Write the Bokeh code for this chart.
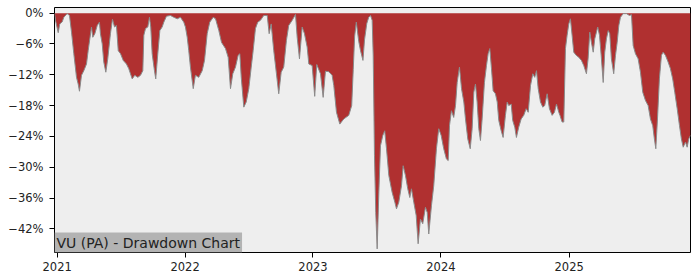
from datetime import datetime, timedelta
from bokeh.plotting import figure
from bokeh.models import (ColumnDataSource, FixedTicker, DatetimeTickFormatter,
                          CustomJSTickFormatter, Range1d, Label)
from bokeh.embed import file_html
from bokeh.resources import INLINE

# Decimal-year positions and drawdown (%)
years = [2020.979, 2020.987, 2021.008, 2021.020, 2021.039, 2021.052, 2021.078, 2021.096, 2021.112, 2021.130,
         2021.151, 2021.164, 2021.174, 2021.190, 2021.208, 2021.229, 2021.242, 2021.255, 2021.268, 2021.278,
         2021.294, 2021.313, 2021.330, 2021.338, 2021.352, 2021.364, 2021.380, 2021.395, 2021.416, 2021.432,
         2021.448, 2021.463, 2021.477, 2021.495, 2021.516, 2021.541, 2021.559, 2021.586, 2021.606, 2021.630,
         2021.651, 2021.669, 2021.677, 2021.690, 2021.708, 2021.721, 2021.731, 2021.742, 2021.760, 2021.770,
         2021.786, 2021.802, 2021.820, 2021.833, 2021.854, 2021.885, 2021.911, 2021.938, 2021.963, 2021.989,
         2022.002, 2022.016, 2022.028, 2022.041, 2022.063, 2022.080, 2022.106, 2022.133, 2022.151, 2022.172,
         2022.192, 2022.219, 2022.237, 2022.263, 2022.284, 2022.315, 2022.336, 2022.354, 2022.372, 2022.393,
         2022.414, 2022.427, 2022.438, 2022.458, 2022.477, 2022.497, 2022.516, 2022.531, 2022.549, 2022.567,
         2022.588, 2022.614, 2022.641, 2022.656, 2022.672, 2022.692, 2022.713, 2022.731, 2022.750, 2022.770,
         2022.791, 2022.809, 2022.836, 2022.862, 2022.875, 2022.893, 2022.914, 2022.932, 2022.953, 2022.966,
         2022.992, 2023.012, 2023.028, 2023.057, 2023.078, 2023.096, 2023.122, 2023.148, 2023.161, 2023.182,
         2023.208, 2023.239, 2023.278, 2023.301, 2023.313, 2023.324, 2023.337, 2023.356, 2023.370, 2023.389,
         2023.401, 2023.419, 2023.434, 2023.448, 2023.461, 2023.469, 2023.479, 2023.489, 2023.500, 2023.513,
         2023.526, 2023.544, 2023.559, 2023.573, 2023.591, 2023.617, 2023.638, 2023.651, 2023.669, 2023.690,
         2023.703, 2023.721, 2023.739, 2023.755, 2023.768, 2023.786, 2023.805, 2023.820, 2023.838, 2023.856,
         2023.877, 2023.891, 2023.903, 2023.924, 2023.942, 2023.963, 2023.981, 2024.000, 2024.020, 2024.041,
         2024.055, 2024.065, 2024.080, 2024.098, 2024.112, 2024.125, 2024.143, 2024.159, 2024.177, 2024.190,
         2024.208, 2024.227, 2024.242, 2024.255, 2024.268, 2024.281, 2024.294, 2024.307, 2024.320, 2024.338,
         2024.354, 2024.367, 2024.380, 2024.393, 2024.406, 2024.424, 2024.438, 2024.450, 2024.469, 2024.484,
         2024.502, 2024.516, 2024.528, 2024.547, 2024.559, 2024.575, 2024.588, 2024.606, 2024.625, 2024.645,
         2024.664, 2024.680, 2024.698, 2024.716, 2024.731, 2024.745, 2024.758, 2024.776, 2024.794, 2024.809,
         2024.828, 2024.846, 2024.867, 2024.885, 2024.901, 2024.919, 2024.928, 2024.945, 2024.958, 2024.971,
         2024.984, 2024.997, 2025.010, 2025.023, 2025.036, 2025.055, 2025.075, 2025.096, 2025.114, 2025.135,
         2025.148, 2025.161, 2025.174, 2025.188, 2025.200, 2025.213, 2025.223, 2025.237, 2025.250, 2025.266,
         2025.278, 2025.291, 2025.305, 2025.317, 2025.330, 2025.348, 2025.362, 2025.375, 2025.388, 2025.401,
         2025.422, 2025.448, 2025.471, 2025.487, 2025.500, 2025.518, 2025.539, 2025.557, 2025.575, 2025.596,
         2025.617, 2025.635, 2025.653, 2025.666, 2025.677, 2025.690, 2025.705, 2025.721, 2025.734, 2025.752,
         2025.773, 2025.791, 2025.809, 2025.825, 2025.844, 2025.862, 2025.877, 2025.891, 2025.909, 2025.922,
         2025.934, 2025.948]

drawdown = [0.0, -1.4, -3.8, -2.1, -1.7, -0.8, -0.1, -0.45, -3.7, -7.9,
            -12.5, -13.8, -15.2, -12.1, -11.2, -9.9, -7.3, -5.0, -2.7, -4.7,
            -4.0, -2.4, -1.75, -4.0, -6.0, -9.5, -11.5, -8.9, -4.0, -1.2,
            -2.7, -2.4, -7.3, -7.9, -9.2, -9.9, -10.8, -12.8, -12.1, -12.5,
            -12.1, -11.2, -4.3, -3.0, -2.7, -0.8, -2.7, -7.9, -11.2, -12.8,
            -7.9, -3.4, -2.7, -1.75, -0.6, -0.45, -0.8, -1.1, -0.8, -1.75,
            -2.7, -4.7, -7.3, -10.5, -14.7, -12.1, -12.5, -11.2, -9.2, -4.0,
            -1.75, -0.8, -1.1, -3.4, -5.7, -6.9, -8.6, -14.7, -11.8, -10.5,
            -8.2, -7.9, -12.5, -18.3, -17.3, -14.7, -10.5, -7.3, -3.0, -1.75,
            -1.4, -0.45, -0.45, -4.0, -2.1, -7.3, -11.8, -15.7, -11.5, -10.5,
            -5.3, -2.4, -1.4, -0.25, -4.7, -8.9, -2.7, -4.0, -6.6, -9.9,
            -10.2, -16.2, -10.0, -11.8, -16.4, -11.3, -11.4, -12.1, -14.1, -19.3,
            -21.6, -20.6, -19.9, -18.0, -11.0, -4.5, -1.75, -5.5, -7.3, -9.2,
            -5.2, -2.0, -0.8, -0.45, -1.4, -8.2, -27.7, -38.8, -45.9, -34.9,
            -25.8, -23.8, -22.9, -26.4, -31.6, -34.9, -36.8, -38.1, -36.8, -33.6,
            -29.7, -31.6, -34.2, -35.9, -34.2, -36.8, -39.4, -44.9, -40.1, -41.0,
            -37.8, -38.8, -43.0, -37.5, -33.6, -26.4, -22.5, -23.8, -26.4, -28.4,
            -28.7, -21.9, -19.0, -20.3, -18.0, -13.5, -10.5, -14.7, -17.3, -20.6,
            -24.5, -26.4, -22.5, -15.4, -13.8, -17.3, -22.5, -24.8, -20.6, -13.5,
            -10.2, -7.9, -6.9, -10.8, -15.1, -15.7, -17.3, -20.9, -22.9, -24.2,
            -19.9, -17.3, -18.0, -17.7, -20.9, -22.2, -24.2, -22.2, -20.6, -19.9,
            -18.6, -19.3, -14.1, -11.8, -12.5, -11.2, -14.7, -17.3, -18.3, -18.0,
            -15.7, -18.6, -19.9, -19.3, -17.7, -19.3, -19.9, -21.2, -21.2, -6.9,
            -4.3, -2.1, -1.1, -4.3, -7.6, -8.2, -8.6, -9.2, -10.2, -11.8,
            -8.9, -3.7, -5.7, -7.6, -5.0, -3.7, -2.7, -4.3, -8.2, -13.5,
            -7.6, -5.0, -3.4, -4.0, -8.9, -11.8, -8.2, -5.7, -2.4, -0.8,
            -0.1, -0.1, -0.45, -0.3, -6.3, -7.9, -8.9, -11.5, -15.4, -17.0,
            -18.0, -20.6, -21.9, -24.5, -26.4, -20.6, -12.8, -8.2, -7.6, -8.2,
            -9.5, -10.8, -12.8, -15.4, -18.6, -21.9, -24.5, -26.1, -25.1, -26.1,
            -24.5, -23.8]

tick_years = [2021, 2022, 2023, 2024, 2025]
y_ticks = [0, -6, -12, -18, -24, -30, -36, -42]
title_text = "VU (PA) - Drawdown Chart"


def to_date(y):
    return datetime(2021, 1, 1) + timedelta(days=(y - 2021) * 365.25)


dates = [to_date(y) for y in years]
zeros = [0.0] * len(dates)
src = ColumnDataSource(dict(x=dates, dd=drawdown, z=zeros))

p = figure(width=700, height=280, x_axis_type="datetime", output_backend="svg",
           toolbar_location=None,
           x_range=Range1d(dates[0], dates[-1]), y_range=Range1d(-46.6, 1.1),
           min_border_left=54, min_border_right=10, min_border_top=7, min_border_bottom=28)

p.background_fill_color = "#EEEEEE"
p.border_fill_color = "white"
p.outline_line_color = "black"
p.outline_line_width = 1
p.grid.visible = False

p.varea(x="x", y1="dd", y2="z", source=src, fill_color="#B03030")
p.line(x="x", y="dd", source=src, line_color="#8a8a8a", line_width=1)

tick_ms = [datetime(y, 1, 1).timestamp() * 1000 for y in tick_years]
p.xaxis.ticker = FixedTicker(ticks=tick_ms)
p.xaxis.formatter = DatetimeTickFormatter(years="%Y", months="%Y", days="%Y", hours="%Y")
p.yaxis.ticker = FixedTicker(ticks=y_ticks)
p.yaxis.formatter = CustomJSTickFormatter(code="""
    return (tick < 0 ? "\u2212" + (-tick) : "" + tick) + "%";
""")

for ax in (p.xaxis[0], p.yaxis[0]):
    ax.axis_line_color = None
    ax.major_tick_in = 0
    ax.major_tick_out = 5
    ax.major_tick_line_color = "black"
    ax.minor_tick_line_color = None
    ax.major_label_text_font = "DejaVu Sans"
    ax.major_label_text_font_size = "11.5px"
    ax.major_label_text_color = "#222222"
p.yaxis.major_label_standoff = 6
p.xaxis.major_label_standoff = 4

label = Label(x=dates[0], y=-46.6, text=title_text, text_font="DejaVu Sans",
              text_font_size="14px", text_color="#222222", text_baseline="bottom",
              text_align="left", background_fill_color="#B3B3B3", padding=2)
p.add_layout(label)

open("out.html", "w").write(file_html(p, INLINE))
